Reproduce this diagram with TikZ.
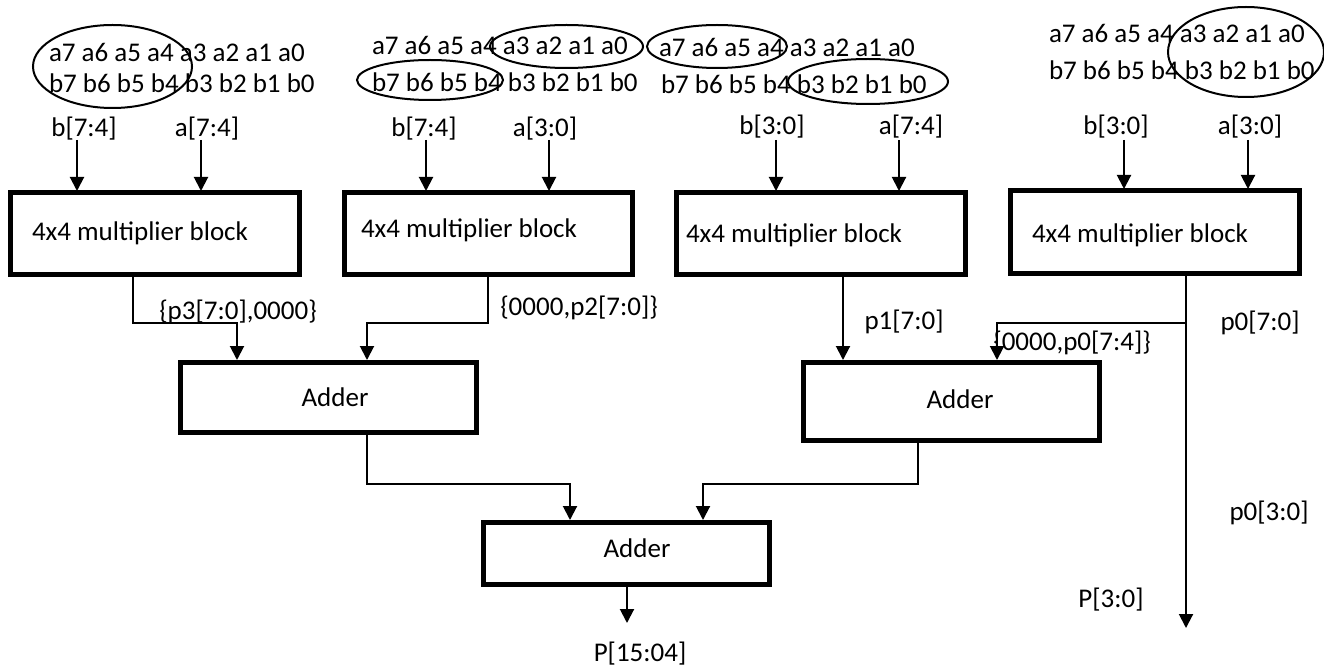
\documentclass[tikz,border=0pt]{standalone}
\usepackage{fontspec}
\setmainfont{Carlito}
\usetikzlibrary{arrows.meta}
\begin{document}
\begin{tikzpicture}[x=1pt,y=-1pt,
  every node/.style={font=\fontsize{27}{32}\selectfont, inner sep=0pt, outer sep=0pt},
  blk/.style={draw, line width=5pt, rectangle, inner sep=0pt},
  row/.style={anchor=base west},
  oval/.style={draw, line width=2pt},
  wire/.style={line width=2pt},
  arr/.style={line width=2pt, -{Triangle[length=14pt,width=14pt]}, shorten >=2pt},
  lbl/.style={anchor=center}]
\fill[white] (0,0) rectangle (1324,668);
\useasboundingbox (0,0) rectangle (1324,668);

% bit rows
\node[row] (r1a) at (49,62) {a7 a6 a5 a4 a3 a2 a1 a0};
\node[row] (r1b) at (49,93) {b7 b6 b5 b4 b3 b2 b1 b0};
\node[row] (r2a) at (372,55) {a7 a6 a5 a4 a3 a2 a1 a0};
\node[row] (r2b) at (372,92) {b7 b6 b5 b4 b3 b2 b1 b0};
\node[row] (r3a) at (659,57) {a7 a6 a5 a4 a3 a2 a1 a0};
\node[row] (r3b) at (661,94) {b7 b6 b5 b4 b3 b2 b1 b0};
\node[row] (r4a) at (1049,43) {a7 a6 a5 a4 a3 a2 a1 a0};
\node[row] (r4b) at (1049,80) {b7 b6 b5 b4 b3 b2 b1 b0};

% ellipses
\draw[oval] (112.5,66.5) ellipse [x radius=79.5pt, y radius=41.5pt];
\draw[oval] (566.5,46.5) ellipse [x radius=76.5pt, y radius=21.5pt];
\draw[oval] (430,80) ellipse [x radius=73pt, y radius=20pt];
\draw[oval] (717,46.5) ellipse [x radius=70pt, y radius=21.5pt];
\draw[oval] (868,81.5) ellipse [x radius=80pt, y radius=22.5pt];
\draw[oval] (1246,52) ellipse [x radius=78pt, y radius=45pt];

% input labels
\node[lbl] (l1b) at (84,129) {b[7:4]};
\node[lbl] (l1a) at (207,129) {a[7:4]};
\node[lbl] (l2b) at (424,129) {b[7:4]};
\node[lbl] (l2a) at (545,129) {a[3:0]};
\node[lbl] (l3b) at (772,127) {b[3:0]};
\node[lbl] (l3a) at (911,127) {a[7:4]};
\node[lbl] (l4b) at (1116,127) {b[3:0]};
\node[lbl] (l4a) at (1250,127) {a[3:0]};

% multiplier blocks
\node[blk, minimum width=289pt, minimum height=81pt] (m1) at (154.5,233.5) {};
\node[blk, minimum width=288pt, minimum height=81pt] (m2) at (488,233.5) {};
\node[blk, minimum width=289pt, minimum height=81pt] (m3) at (820.5,233.5) {};
\node[blk, minimum width=289pt, minimum height=82pt] (m4) at (1154.5,232) {};
\node[anchor=west] (t1) at (32,233) {4x4 multiplier block};
\node[anchor=west] (t2) at (361,230) {4x4 multiplier block};
\node[anchor=west] (t3) at (686,235) {4x4 multiplier block};
\node[anchor=west] (t4) at (1032,235) {4x4 multiplier block};

% adders
\node[blk, minimum width=296pt, minimum height=70pt] (ad1) at (328,397) {};
\node[blk, minimum width=296pt, minimum height=78pt] (ad2) at (951,401) {};
\node[blk, minimum width=286pt, minimum height=62pt] (ad3) at (626,553) {};
\node (ta1) at (335,397) {Adder};
\node (ta2) at (960,399) {Adder};
\node (ta3) at (637,548) {Adder};

% input arrows
\coordinate (i1) at (77,140);  \coordinate (i2) at (201,140);
\coordinate (i3) at (426,140); \coordinate (i4) at (549,140);
\coordinate (i5) at (776,140); \coordinate (i6) at (899,140);
\coordinate (i7) at (1124,140);\coordinate (i8) at (1248,140);
\draw[arr] (i1) -- (m1.north -| i1);
\draw[arr] (i2) -- (m1.north -| i2);
\draw[arr] (i3) -- (m2.north -| i3);
\draw[arr] (i4) -- (m2.north -| i4);
\draw[arr] (i5) -- (m3.north -| i5);
\draw[arr] (i6) -- (m3.north -| i6);
\draw[arr] (i7) -- (m4.north -| i7);
\draw[arr] (i8) -- (m4.north -| i8);

% multiplier outputs
\coordinate (j1) at (133,323); \coordinate (j2) at (237,323);
\coordinate (j3) at (488,323); \coordinate (j4) at (367,323);
\draw[arr] (m1.south -| j1) -- (j1) -- (j2) -- (ad1.north -| j2);
\draw[arr] (m2.south -| j3) -- (j3) -- (j4) -- (ad1.north -| j4);
\coordinate (c3) at (843,323);
\draw[arr] (m3.south -| c3) -- (ad2.north -| c3);
\coordinate (br) at (1186,323); \coordinate (br2) at (997,323);
\coordinate (p0end) at (1186,630);
\draw[arr] (m4.south -| p0end) -- (p0end);
\draw[arr] (br) -- (br2) -- (ad2.north -| br2);

% adder outputs
\coordinate (q1) at (367,484); \coordinate (q2) at (570,484);
\coordinate (q3) at (918,484); \coordinate (q4) at (703,484);
\draw[arr] (ad1.south -| q1) -- (q1) -- (q2) -- (ad3.north -| q2);
\draw[arr] (ad2.south -| q3) -- (q3) -- (q4) -- (ad3.north -| q4);
\coordinate (pend) at (627,625);
\draw[arr] (ad3.south -| pend) -- (pend);

% signal labels
\node[lbl] (s1) at (238,312) {\{p3[7:0],0000\}};
\node[lbl] (s2) at (579,308) {\{0000,p2[7:0]\}};
\node[lbl] (s3) at (904,322) {p1[7:0]};
\node[lbl] (s4) at (1072,343) {\{0000,p0[7:4]\}};
\node[lbl] (s5) at (1260,323) {p0[7:0]};
\node[lbl] (s6) at (1269,513) {p0[3:0]};
\node[lbl] (s7) at (1111,600) {P[3:0]};
\node[lbl] (s8) at (640,654) {P[15:04]};
\end{tikzpicture}
\end{document}
